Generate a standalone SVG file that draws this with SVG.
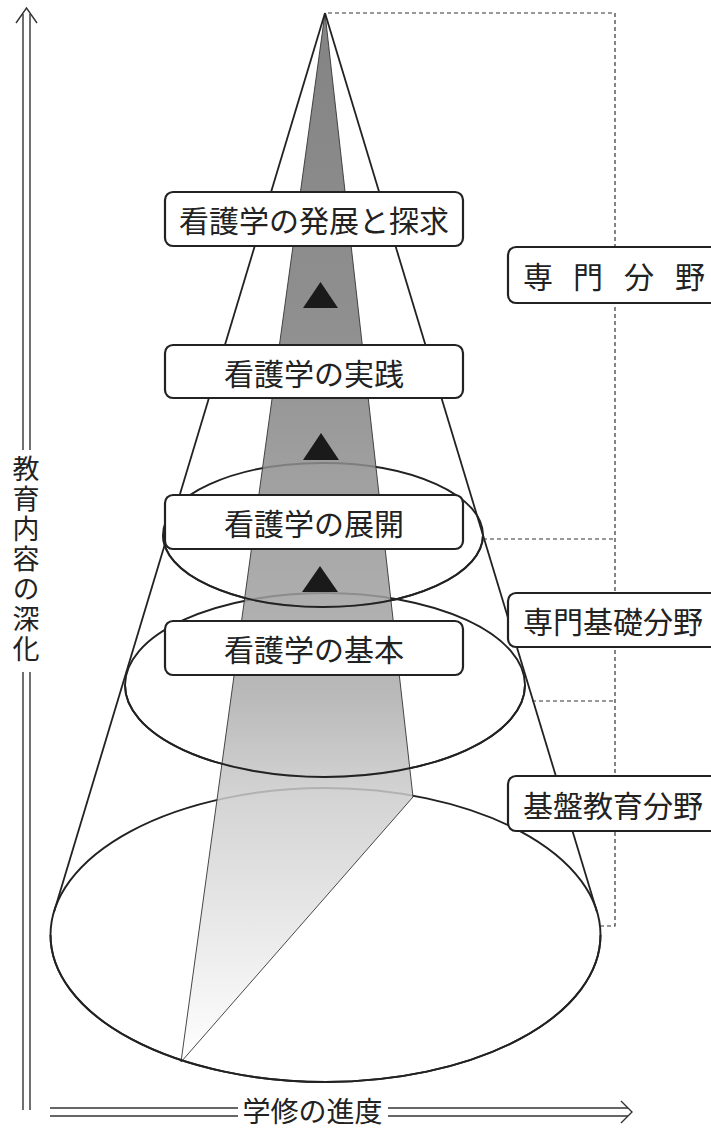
<svg xmlns="http://www.w3.org/2000/svg" width="711" height="1128" viewBox="0 0 711 1128">
<defs>
<linearGradient id="bandGrad" gradientUnits="userSpaceOnUse" x1="0" y1="13" x2="0" y2="1062">
<stop offset="0" stop-color="#6e6e6e"/>
<stop offset="0.3" stop-color="#7c7c7c"/>
<stop offset="0.5" stop-color="#979797"/>
<stop offset="0.65" stop-color="#adadad"/>
<stop offset="0.75" stop-color="#cdcdcd"/>
<stop offset="1" stop-color="#ffffff"/>
</linearGradient>
<style>
.ell{fill:none;stroke:#222;stroke-width:1.9}
.cone{fill:none;stroke:#222;stroke-width:1.8}
.dash{fill:none;stroke:#333;stroke-width:1.2;stroke-dasharray:4 3}
.box{fill:#fff;stroke:#222;stroke-width:2.2}
.txt{font-family:"Noto Sans CJK JP","Noto Sans CJK SC",sans-serif;font-size:30px;fill:#222;dominant-baseline:central}
.tri{fill:#1a1a1a}
.arr{fill:none;stroke:#333;stroke-width:1.4}
</style>
</defs>
<rect width="711" height="1128" fill="#fff"/>

<g id="ellipses-back">
<ellipse class="ell" cx="323" cy="535" rx="160" ry="72"/>
<ellipse class="ell" cx="325" cy="685" rx="200" ry="92"/>
<ellipse class="ell" cx="325.5" cy="935" rx="275" ry="147"/>
</g>

<g id="band">
<polygon points="325,13 413,797 181,1062" fill="url(#bandGrad)" fill-opacity="0.85" stroke="#333" stroke-width="0.9" stroke-linejoin="round"/>
</g>

<g id="ellipses-front">
<path class="ell" d="M163,535 A160,72 0 0 0 483,535"/>
<path class="ell" d="M125,685 A200,92 0 0 0 525,685"/>
<path class="ell" d="M50.5,935 A275,147 0 0 0 600.5,935"/>
</g>

<g id="connectors">
<line class="cone" x1="325" y1="13" x2="54" y2="912"/>
<line class="cone" x1="325" y1="13" x2="597" y2="912"/>
<polyline class="dash" points="328,13 615,13 615,926 600,926"/>
<line class="dash" x1="483" y1="539" x2="615" y2="539"/>
<line class="dash" x1="532" y1="701" x2="615" y2="701"/>
</g>

<g id="triangles">
<polygon class="tri" points="320.5,282 303,308 338,308"/>
<polygon class="tri" points="321,433 303,460 339,460"/>
<polygon class="tri" points="320,566 302,592 338,592"/>
</g>

<g id="node-hatten">
<rect class="box" x="165" y="192" width="298" height="54" rx="8"/>
<text class="txt" x="314" y="219" text-anchor="middle">看護学の発展と探求</text>
</g>
<g id="node-jissen">
<rect class="box" x="165" y="345" width="298" height="53" rx="8"/>
<text class="txt" x="314" y="371.5" text-anchor="middle">看護学の実践</text>
</g>
<g id="node-tenkai">
<rect class="box" x="165" y="495" width="298" height="54" rx="8"/>
<text class="txt" x="314" y="522" text-anchor="middle">看護学の展開</text>
</g>
<g id="node-kihon">
<rect class="box" x="165" y="621" width="298" height="54" rx="8"/>
<text class="txt" x="314" y="648" text-anchor="middle">看護学の基本</text>
</g>

<g id="label-senmon">
<rect class="box" x="508" y="247" width="215" height="56" rx="8"/>
<text class="txt" x="523 573 624 675" y="275">専門分野</text>
</g>
<g id="label-senmonkiso">
<rect class="box" x="508" y="593" width="215" height="54" rx="8"/>
<text class="txt" x="523" y="620">専門基礎分野</text>
</g>
<g id="label-kiban">
<rect class="box" x="508" y="776" width="215" height="55" rx="8"/>
<text class="txt" x="523" y="803.5">基盤教育分野</text>
</g>

<g id="axis-vertical">
<line class="arr" x1="23" y1="14" x2="23" y2="450"/>
<line class="arr" x1="30" y1="14" x2="30" y2="450"/>
<line class="arr" x1="23" y1="672" x2="23" y2="1110"/>
<line class="arr" x1="30" y1="672" x2="30" y2="1110"/>
<polyline class="arr" points="16,23 26.5,8 37,23"/>
<text x="26" y="455" writing-mode="vertical-rl" letter-spacing="3" style="font-family:'Noto Sans CJK JP','Noto Sans CJK SC',sans-serif;font-size:27px;fill:#222">教育内容の深化</text>
</g>

<g id="axis-horizontal">
<line class="arr" x1="50" y1="1108" x2="238" y2="1108"/>
<line class="arr" x1="50" y1="1116" x2="238" y2="1116"/>
<line class="arr" x1="388" y1="1108" x2="628" y2="1108"/>
<line class="arr" x1="388" y1="1116" x2="628" y2="1116"/>
<polyline class="arr" points="621,1101 632,1112 621,1123"/>
<text x="312.5" y="1110" text-anchor="middle" style="font-family:'Noto Sans CJK JP','Noto Sans CJK SC',sans-serif;font-size:28px;fill:#222;dominant-baseline:central">学修の進度</text>
</g>
</svg>
